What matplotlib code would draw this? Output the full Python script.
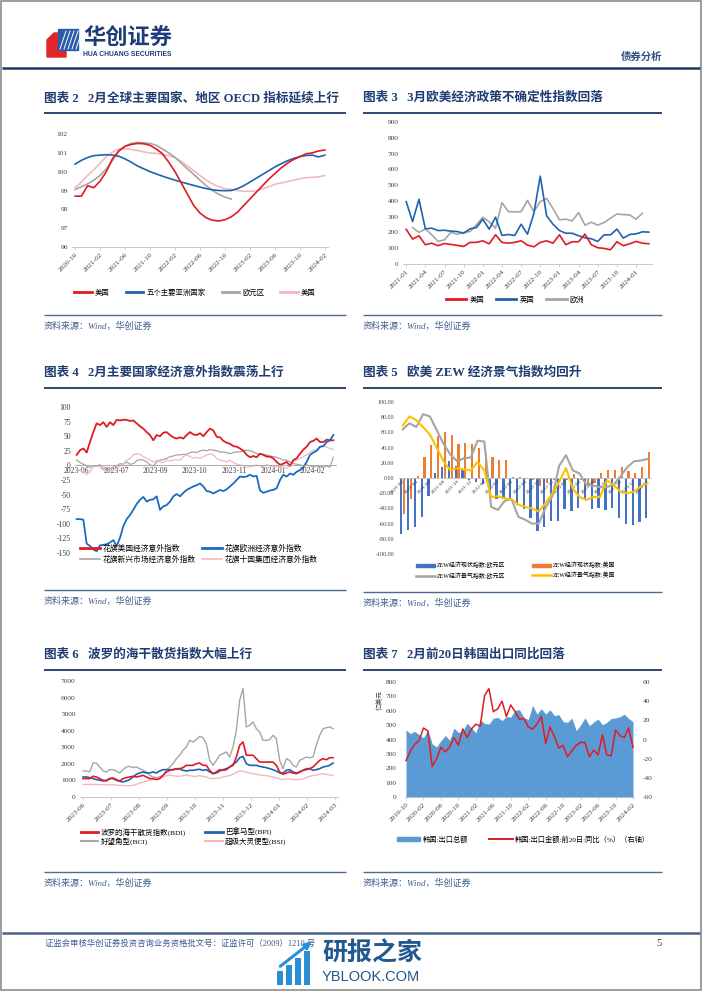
import numpy as np
import matplotlib
matplotlib.use('Agg')
import matplotlib.pyplot as plt
from matplotlib.patches import Polygon, Rectangle, Patch
from matplotlib.lines import Line2D

plt.rcParams['font.family'] = ['Liberation Serif', 'Noto Sans CJK SC']
plt.rcParams['axes.unicode_minus'] = False

# ---------------- data ----------------
# chart 2: OECD CLI, monthly 2020-10 .. 2024-02
oecd_ticks = ['2020-10', '2021-02', '2021-06', '2021-10', '2022-02', '2022-06',
              '2022-10', '2023-02', '2023-06', '2023-10', '2024-02']
oecd_us = [98.7, 98.7, 99.25, 99.15, 99.5, 100.0, 100.7, 101.1, 101.35, 101.45,
           101.5, 101.48, 101.4, 101.2, 100.95, 100.5, 100.0, 99.4, 98.8, 98.2,
           97.8, 97.55, 97.42, 97.38, 97.45, 97.6, 97.85, 98.2, 98.55, 98.9,
           99.25, 99.6, 99.9, 100.2, 100.45, 100.65, 100.8, 100.95, 101.0, 101.1, 101.15]
oecd_asia = [100.4, 100.6, 100.75, 100.85, 100.88, 100.9, 100.88, 100.82, 100.68, 100.5,
             100.3, 100.15, 100.0, 99.88, 99.76, 99.65, 99.55, 99.45, 99.36, 99.27,
             99.18, 99.1, 99.04, 99.0, 98.99, 99.0, 99.1, 99.25, 99.45, 99.65,
             99.85, 100.05, 100.25, 100.42, 100.58, 100.7, 100.8, 100.86, 100.88, 100.78, 100.88]
oecd_euro = [99.05, 99.2, 99.35, 99.55, 99.8, 100.15, 100.6, 101.1, 101.35, 101.5,
             101.55, 101.53, 101.5, 101.4, 101.2, 101.0, 100.75, 100.45, 100.15, 99.85,
             99.55, 99.25, 99.0, 98.8, 98.65, 98.55]
oecd_us2 = [99.15, 99.45, 99.8, 100.1, 100.45, 100.8, 101.05, 101.2, 101.22, 101.18,
            101.12, 101.05, 101.0, 100.97, 100.92, 100.85, 100.75, 100.55, 100.3, 100.05,
            99.8, 99.55, 99.35, 99.2, 99.1, 99.05, 99.0, 98.96, 98.96, 98.98,
            99.08, 99.2, 99.33, 99.4, 99.47, 99.55, 99.62, 99.68, 99.7, 99.72, 99.8]

# chart 3: EPU, monthly 2021-01 .. 2024-03 (Europe 2021-02 .. 2024-02)
epu_ticks = ['2021-01', '2021-04', '2021-07', '2021-10', '2022-01', '2022-04', '2022-07',
             '2022-10', '2023-01', '2023-04', '2023-07', '2023-10', '2024-01']
epu_us = [220, 158, 179, 122, 132, 116, 130, 124, 118, 111,
          137, 137, 147, 128, 185, 137, 132, 137, 147, 120,
          109, 137, 147, 132, 185, 122, 141, 141, 189, 122,
          103, 99, 90, 141, 116, 128, 143, 132, 128]
epu_uk = [395, 269, 410, 223, 227, 212, 214, 208, 206, 195,
          223, 231, 284, 221, 297, 181, 187, 181, 252, 189,
          321, 557, 305, 252, 212, 195, 195, 179, 166, 160,
          143, 185, 185, 221, 164, 187, 191, 204, 202]
epu_eu = [231, 200, 223, 185, 143, 153, 200, 189, 200, 206,
          248, 297, 267, 227, 389, 332, 330, 332, 403, 332,
          395, 416, 351, 280, 284, 273, 326, 246, 265, 246,
          263, 290, 317, 313, 311, 284, 321]

# chart 4: Citi economic surprise indices, 2023-06 .. 2024-02 (sampled)
surp_ticks = ['2023-06', '2023-07', '2023-09', '2023-10', '2023-11', '2024-01', '2024-02']
surp_us = [18, 26, 29, 22, 40, 57, 72, 69, 74, 66, 74, 69, 78, 77, 78, 78, 76, 77, 72, 67,
           63, 57, 52, 43, 52, 50, 56, 57, 52, 48, 46, 48, 46, 52, 57, 53, 52, 55, 50, 57,
           63, 60, 49, 48, 42, 39, 37, 33, 32, 29, 25, 18, 14, 16, 14, 20, 18, 15, 15, 12,
           6, 1, 3, 6, -1, 9, 12, 20, 27, 32, 40, 42, 46, 40, 40, 44, 43, 43]
surp_eu = [-92, -92, -93, -134, -138, -144, -147, -137, -136, -135,
           -132, -128, -138, -124, -104, -92, -85, -76, -66, -59,
           -54, -62, -59, -58, -53, -76, -70, -68, -62, -53,
           -49, -53, -47, -42, -39, -36, -34, -31, -36, -44,
           -45, -48, -45, -42, -44, -41, -36, -31, -25, -19,
           -20, -19, -16, -19, -18, -43, -47, -45, -43, -42,
           -39, -25, -16, -19, -14, -16, -11, -8, -3, 6,
           18, 22, 25, 32, 33, 40, 43, 52]
surp_em = [9, 5, 2, -1, -3, -2, -1, 1, -5, -7, -8, -3, -1, 3, 2, 6, 2, 3, 8, 10,
           9, 6, 1, -1, 6, 9, 10, 12, 15, 16, 18, 18, 19, 19, 22, 23, 22, 25, 26, 25,
           27, 26, 25, 23, 23, 22, 20, 22, 23, 23, 25, 26, 25, 23, 20, 19, 19, 18, 16, 15,
           14, 12, 9, 9, 6, 3, 2, 1, -1, 1, -1, -2, -1, -2, -3, -1, -3, 14]
surp_g10 = [-8, -8, -11, -16, -11, -1, -1, -3, -8, -11, -9, -8, -5, -1, 3, 9, 12, 18, 20, 19,
            15, 12, 9, 6, 9, 6, 5, 9, 8, 9, 10, 9, 15, 18, 15, 12, 14, 12, 15, 18,
            20, 18, 12, 9, 8, 6, 9, 5, 2, 1, -1, -3, -2, -1, 1, -1, -2, 1, -1, -3,
            -2, -1, -3, -5, 1, 6, 9, 12, 15, 18, 23, 26, 27, 31, 33, 31, 29, 27]

# chart 5: ZEW, monthly 2021-02 .. 2024-02
zew_ticks = ['2021-02', '2021-04', '2021-06', '2021-08', '2021-10', '2021-12', '2022-02',
             '2022-04', '2022-06', '2022-08', '2022-10', '2022-12', '2023-02', '2023-04',
             '2023-06', '2023-08', '2023-10', '2023-12', '2024-02']
zew_eu_cur = [-74, -69, -65, -51, -24, 6, 15, 22, 16, 10, -2, -5, -8, -22, -27, -27, -28,
              -36, -41, -53, -70, -65, -57, -56, -41, -43, -40, -29, -41, -40, -42, -40,
              -52, -61, -62, -58, -53]
zew_us_cur = [-47, -27, 3, 28, 43, 55, 60, 57, 45, 46, 45, 40, 31, 27, 24, 24, 1, 1, -1,
              -3, -11, -6, -2, -1, -2, 5, -3, -8, -6, 7, 10, 11, 15, 9, 7, 15, 34]
zew_eu_exp = [64, 72, 67, 84, 81, 63, 45, 31, 22, 26, 27, 49, 48, -38, -42, -30, -28, -51,
              -55, -60, -60, -39, -24, 16, 30, 10, 6, -9, -10, -12, -12, -9, 2, 14, 22, 23, 25]
zew_us_exp = [69, 81, 76, 67, 57, 40, 22, 10, 13, 11, 10, 21, 10, -25, -24, -27, -28, -35,
              -38, -40, -44, -33, -20, -5, 13, -14, -25, -29, -25, -25, -3, -9, -18, -20,
              -18, -11, -7]

# chart 6: Baltic indices, 2023-06 .. 2024-03 (sampled)
bdi_ticks = ['2023-06', '2023-07', '2023-08', '2023-09', '2023-10', '2023-11', '2023-12',
             '2024-01', '2024-02', '2024-03']
bci = [1570, 1570, 1510, 2050, 2050, 1810, 1570, 1510, 1650, 1650,
       1570, 1450, 1650, 1810, 1850, 1770, 1810, 1710, 1610, 1510,
       1310, 1210, 1170, 1210, 1310, 1610, 1810, 2010, 2310, 2520,
       2820, 3020, 3420, 3320, 3460, 3660, 3580, 3220, 2210, 1910,
       2210, 2520, 2620, 2720, 2410, 3020, 4020, 5840, 6540, 4230,
       4330, 4530, 4120, 3920, 3420, 3420, 3460, 3720, 3520, 2210,
       1710, 2310, 2210, 1910, 1810, 2210, 2310, 2410, 2370, 2410,
       3120, 3720, 4120, 4180, 4230, 4120]
bdi = [1110, 1110, 1110, 1250, 1210, 1110, 1010, 970, 1110, 1150,
       1050, 970, 1110, 1170, 1210, 1250, 1210, 1250, 1310, 1210,
       1110, 1110, 1050, 1110, 1310, 1510, 1610, 1650, 1710, 1710,
       1770, 1910, 1910, 1910, 2010, 2050, 1910, 1910, 1610, 1410,
       1510, 1650, 1610, 1650, 1810, 1910, 2410, 3120, 3320, 2520,
       2520, 2520, 2310, 2110, 2110, 2110, 2110, 2110, 1910, 1510,
       1370, 1450, 1510, 1450, 1410, 1510, 1610, 1710, 1710, 1810,
       2010, 2210, 2310, 2250, 2370, 2370]
bpi = [1210, 1210, 1170, 1110, 1050, 1010, 970, 1010, 1110, 1110,
       1010, 950, 910, 970, 1050, 1210, 1370, 1450, 1510, 1450,
       1450, 1510, 1450, 1570, 1650, 1650, 1650, 1650, 1690, 1690,
       1610, 1570, 1610, 1610, 1650, 1670, 1610, 1650, 1510, 1410,
       1450, 1570, 1650, 1710, 1810, 1970, 2110, 2370, 2450, 2010,
       1910, 1910, 1910, 1850, 1810, 1770, 1710, 1650, 1570, 1450,
       1450, 1610, 1650, 1510, 1450, 1510, 1610, 1650, 1710, 1610,
       1650, 1710, 1810, 1850, 1910, 2050]
bsi = [760, 760, 760, 760, 760, 740, 740, 740, 740, 740,
       720, 700, 700, 680, 680, 700, 760, 850, 890, 950,
       1010, 1050, 1090, 1130, 1210, 1290, 1310, 1290, 1250, 1250,
       1290, 1310, 1290, 1250, 1250, 1290, 1250, 1210, 1130, 1110,
       1130, 1150, 1210, 1250, 1290, 1370, 1490, 1570, 1550, 1490,
       1450, 1410, 1370, 1330, 1310, 1290, 1250, 1210, 1150, 1090,
       1050, 1090, 1090, 1050, 1050, 1050, 1090, 1170, 1250, 1290,
       1330, 1370, 1410, 1370, 1330, 1310]

# chart 7: Korea exports, monthly 2019-10 .. 2024-02
kr_ticks = ['2019-10', '2020-02', '2020-06', '2020-10', '2021-02', '2021-06', '2021-10',
            '2022-02', '2022-06', '2022-10', '2023-02', '2023-06', '2023-10', '2024-02']
kr_exports = [467, 441, 457, 433, 412, 469, 369, 349, 392, 428,
              395, 480, 449, 457, 514, 480, 447, 538, 512, 507,
              548, 554, 532, 559, 556, 604, 607, 553, 539, 638,
              577, 615, 577, 607, 566, 574, 524, 519, 549, 462,
              501, 551, 496, 522, 542, 503, 519, 546, 550, 558,
              576, 546, 524]
kr_yoy = [-22, -12, -5, -1, 12, 9, -28, -20, -8, -13,
          -8, 2, -6, 11, 2, 11, 16, 14, 46, 53,
          29, 32, 40, 24, 36, 29, 21, 22, 13, 11,
          16, 24, -4, 13, 3, -9, -6, -18, -12, -6,
          -3, -3, -18, -11, -16, 5, -16, -17, 10, 4,
          2, 12, -8]

# ---------------- page ----------------
W, H = 702, 991
fig = plt.figure(figsize=(W / 100, H / 100), dpi=100)
page = fig.add_axes([0, 0, 1, 1])
page.set_xlim(0, W)
page.set_ylim(H, 0)
page.axis('off')

NAVY = '#1f3864'
TITLE = '#1f3c73'
SRC = '#3f5d8e'
TICK = '#404040'
AXC = '#bfbfbf'
RED = '#e01b24'
BLUE = '#1f63b0'
GREY = '#a6a6a6'
PINK = '#f4b8bc'
FS = 5.3


def panel(l, t, r, b):
    ax = fig.add_axes([l / W, 1 - b / H, (r - l) / W, (b - t) / H])
    ax.patch.set_alpha(0)
    for s in ('top', 'right', 'left'):
        ax.spines[s].set_visible(False)
    ax.spines['bottom'].set_color(AXC)
    ax.spines['bottom'].set_linewidth(0.6)
    ax.tick_params(axis='y', length=0, labelsize=FS, labelcolor=TICK, pad=3)
    ax.tick_params(axis='x', length=2, width=0.5, color=AXC, labelsize=FS,
                   labelcolor=TICK, pad=1.5)
    return ax


def header(x0, x1, y, text):
    page.text(x0, y, text, fontsize=9.1, fontweight='bold', color=TITLE, va='center')
    page.plot([x0, x1], [y + 15, y + 15], color=NAVY, lw=1.3, solid_capstyle='butt')


def source(x0, x1, y):
    page.plot([x0, x1], [y, y], color='#4d6a92', lw=1.0, solid_capstyle='butt')
    page.text(x0, y + 11, '资料来源：Wind，华创证券', fontsize=6.5, style='italic',
              color=SRC, va='center')


def rot_labels(ax, pos, labels, fs=FS):
    ax.set_xticks(pos)
    ax.set_xticklabels(labels, rotation=45, ha='right', rotation_mode='anchor', fontsize=fs)


def legend(ax, handles, labels, x, y, ncol, fs=5.5, loc='center', **kw):
    return ax.legend(handles, labels, loc=loc, bbox_to_anchor=(x, y),
                     bbox_transform=page.transData, ncol=ncol, frameon=False,
                     fontsize=fs, borderaxespad=0, borderpad=0, **kw)


def lh(c, lw=2.0):
    return Line2D([], [], color=c, lw=lw)


# frame, logo, header
page.add_patch(Rectangle((1, 1), 700, 989, fill=False, ec='#8c8c8c', lw=1.2))
page.add_patch(Polygon([(47, 40), (54, 33), (66, 33), (66, 57), (47, 57)], color='#e0262c'))
page.add_patch(Polygon([(58, 29), (78, 29), (78, 50), (58, 50)], color='#2a5caa'))
for k in range(5):
    page.plot([60 + 4 * k, 66 + 4 * k], [49, 31], color='white', lw=0.7)
page.text(83, 39, '华创证券', fontsize=16, fontweight='bold', color='#1d3c78', va='center')
page.text(83, 54, 'HUA CHUANG SECURITIES', fontsize=4.9, fontweight='bold',
          family='Liberation Sans', color='#1d3c78', va='center')
page.text(662, 57, '债券分析', fontsize=7.5, fontweight='bold', color='#2f4d80',
          va='center', ha='right')
page.plot([2, 700], [68, 68], color=NAVY, lw=1.8, solid_capstyle='butt')

# ---------------- chart 2 ----------------
header(44, 346, 98, '图表 2   2月全球主要国家、地区 OECD 指标延续上行')
ax = panel(72, 134, 328, 247)
x = np.arange(len(oecd_us))
ax.plot(x, oecd_us2, color=PINK, lw=1.2)
ax.plot(np.arange(len(oecd_euro)), oecd_euro, color=GREY, lw=1.2)
ax.plot(x, oecd_asia, color=BLUE, lw=1.2)
ax.plot(x, oecd_us, color=RED, lw=1.2)
ax.set_xlim(-0.5, len(x) - 0.5)
ax.set_ylim(96, 102)
ax.set_yticks(range(96, 103))
rot_labels(ax, np.arange(0, len(x), 4), oecd_ticks)
legend(ax, [lh(RED), lh(BLUE), lh(GREY), lh(PINK)], ['美国', '五个主要亚洲国家', '欧元区', '美国'],
       195, 292, 4, fs=5.3, handlelength=2.4, columnspacing=2.2, handletextpad=0.4)
source(44, 346, 315)

# ---------------- chart 3 ----------------
header(363, 662, 98, '图表 3   3月欧美经济政策不确定性指数回落')
ax = panel(403, 122, 652, 264)
ax.plot(np.arange(1, len(epu_eu) + 1), epu_eu, color=GREY, lw=1.2)
ax.plot(np.arange(len(epu_uk)), epu_uk, color=BLUE, lw=1.2)
ax.plot(np.arange(len(epu_us)), epu_us, color=RED, lw=1.2)
ax.set_xlim(-0.5, len(epu_us) - 0.5)
ax.set_ylim(0, 900)
ax.set_yticks(range(0, 901, 100))
rot_labels(ax, np.arange(0, len(epu_us), 3), epu_ticks)
legend(ax, [lh(RED), lh(BLUE), lh(GREY)], ['美国', '英国', '欧洲'],
       515, 299, 3, fs=5.3, handlelength=2.8, columnspacing=1.6, handletextpad=0.4)
source(363, 662, 315)

# ---------------- chart 4 ----------------
header(44, 346, 373, '图表 4   2月主要国家经济意外指数震荡上行')
ax = panel(75, 407, 336, 553)
x = np.arange(len(surp_us))
ax.plot(x, surp_em, color=GREY, lw=0.9)
ax.plot(x, surp_g10, color=PINK, lw=0.9)
ax.plot(x, surp_us, color=RED, lw=1.3)
ax.plot(x, surp_eu, color='#1b6ac0', lw=1.3)
ax.set_xlim(-0.5, len(x) - 0.2)
ax.set_ylim(-150, 100)
ax.set_yticks(range(-150, 101, 25))
ax.spines['bottom'].set_position(('data', 0))
ax.spines['bottom'].set_color('#a0a0a0')
ax.set_xticks(np.arange(len(surp_ticks)) * 11.8)
ax.set_xticklabels(surp_ticks, fontsize=5.5)
ax.tick_params(axis='x', length=0, pad=1)
ax.tick_params(axis='y', labelsize=5.5)
legend(ax, [lh(RED), lh(GREY, 1.2), lh('#1b6ac0'), lh(PINK, 1.2)],
       ['花旗美国经济意外指数', '花旗新兴市场经济意外指数', '花旗欧洲经济意外指数', '花旗十国集团经济意外指数'],
       80, 545, 2, fs=5.6, loc='upper left', handlelength=2.6, columnspacing=0.8,
       handletextpad=0.3, labelspacing=0.35)
source(44, 346, 590)

# ---------------- chart 5 ----------------
header(363, 662, 373, '图表 5   欧美 ZEW 经济景气指数均回升')
ax = panel(399.3, 402, 651, 554)
x = np.arange(len(zew_eu_cur))
ax.bar(x - 0.2, zew_eu_cur, width=0.33, color='#4472c4', zorder=1)
ax.bar(x + 0.2, zew_us_cur, width=0.33, color='#ed7d31', zorder=1)
ax.plot(x, zew_eu_exp, color='#a5a5a5', lw=1.5, zorder=2)
ax.plot(x, zew_us_exp, color='#ffc000', lw=1.5, zorder=3)
ax.set_xlim(-0.5, len(x) - 0.5)
ax.set_ylim(-100, 100)
ax.set_yticks(range(-100, 101, 20))
ax.set_yticklabels(['%.2f' % v for v in range(-100, 101, 20)], fontsize=4.3)
ax.spines['bottom'].set_position(('data', 0))
rot_labels(ax, np.arange(0, len(x), 2), zew_ticks, fs=3.9)
ax.tick_params(axis='x', length=0, pad=1)
ax.tick_params(axis='y', pad=3.5)
legend(ax, [Patch(color='#4472c4'), Line2D([], [], color='#a5a5a5', lw=1.8),
            Patch(color='#ed7d31'), Line2D([], [], color='#ffc000', lw=1.8)],
       ['ZEW经济现状指数:欧元区', 'ZEW经济景气指数:欧元区', 'ZEW经济现状指数:美国', 'ZEW经济景气指数:美国'],
       416, 562, 2, fs=4.3, loc='upper left', handlelength=3.2, handleheight=0.5,
       columnspacing=4.5, handletextpad=0.3, labelspacing=0.6)
source(363, 662, 592)

# ---------------- chart 6 ----------------
header(44, 346, 655, '图表 6   波罗的海干散货指数大幅上行')
ax = panel(79.7, 681, 338, 797)
x = np.arange(len(bdi))
ax.plot(x, bci, color=GREY, lw=1.0)
ax.plot(x, bsi, color=PINK, lw=1.0)
ax.plot(x, bpi, color=BLUE, lw=1.2)
ax.plot(x, bdi, color=RED, lw=1.2)
ax.set_xlim(-1, len(x) + 0.5)
ax.set_ylim(0, 7000)
ax.set_yticks(range(0, 7001, 1000))
rot_labels(ax, np.linspace(0, len(x) - 0.5, len(bdi_ticks)), bdi_ticks)
legend(ax, [lh(RED), lh(GREY, 1.4), lh(BLUE), lh(PINK, 1.4)],
       ['波罗的海干散货指数(BDI)', '好望角型(BCI)', '巴拿马型(BPI)', '超级大灵便型(BSI)'],
       81, 828, 2, fs=5.4, loc='upper left', handlelength=2.3, columnspacing=2.6,
       handletextpad=0.3, labelspacing=0.15)
source(44, 346, 872)

# ---------------- chart 7 ----------------
header(363, 662, 655, '图表 7   2月前20日韩国出口同比回落')
ax = panel(404.7, 682, 634.3, 797)
x = np.arange(len(kr_exports))
ax.fill_between(x, 0, kr_exports, color='#5b9bd5', lw=0)
ax.set_xlim(-0.3, len(x) - 0.7)
ax.set_ylim(0, 800)
ax.set_yticks(range(0, 801, 100))
rot_labels(ax, np.arange(0, len(x), 4), kr_ticks)
ax.tick_params(axis='y', pad=6)
axr = ax.twinx()
axr.patch.set_alpha(0)
for s in axr.spines.values():
    s.set_visible(False)
axr.plot(x, kr_yoy, color=RED, lw=1.1)
axr.set_ylim(-60, 60)
axr.set_yticks(range(-60, 61, 20))
axr.tick_params(axis='y', length=0, labelsize=FS, labelcolor=TICK, pad=6)
page.text(379, 700, '亿美元', fontsize=4.8, rotation=90, color=TICK, ha='center', va='center')
legend(ax, [Patch(color='#5b9bd5'), lh(RED, 1.4)],
       ['韩国:出口总额', '韩国:出口金额:前20日:同比（%）（右轴）'],
       397, 839, 2, fs=5.2, loc='center left', handlelength=3.2, handleheight=0.6,
       columnspacing=3.0, handletextpad=0.3)
source(363, 662, 872)

# ---------------- footer ----------------
page.plot([2, 700], [933, 933], color='#4a6285', lw=1.8, solid_capstyle='butt')
page.text(45, 944, '证监会审核华创证券投资咨询业务资格批文号：证监许可（2009）1210 号',
          fontsize=6, color='#3e5b8c', va='center')
page.text(662, 944, '5', fontsize=7.5, color='#333333', va='center', ha='right')
# watermark
for k, hgt in enumerate([14, 20, 27, 34]):
    page.add_patch(Rectangle((277 + 9 * k, 985 - hgt), 6, hgt, color='#2b8fd8', lw=0))
page.annotate('', xy=(314, 940), xytext=(278, 968),
              arrowprops=dict(arrowstyle='-|>', color='#2b8fd8', lw=2.2, mutation_scale=9))
page.text(322, 953, '研报之家', fontsize=18, fontweight='bold', color='#23578f',
          va='center', family=['Noto Sans CJK SC'])
page.text(322, 977, 'YBLOOK.COM', fontsize=10.5, color='#23578f', va='center',
          family=['Liberation Sans'])

fig.savefig('out.png', dpi=100)
